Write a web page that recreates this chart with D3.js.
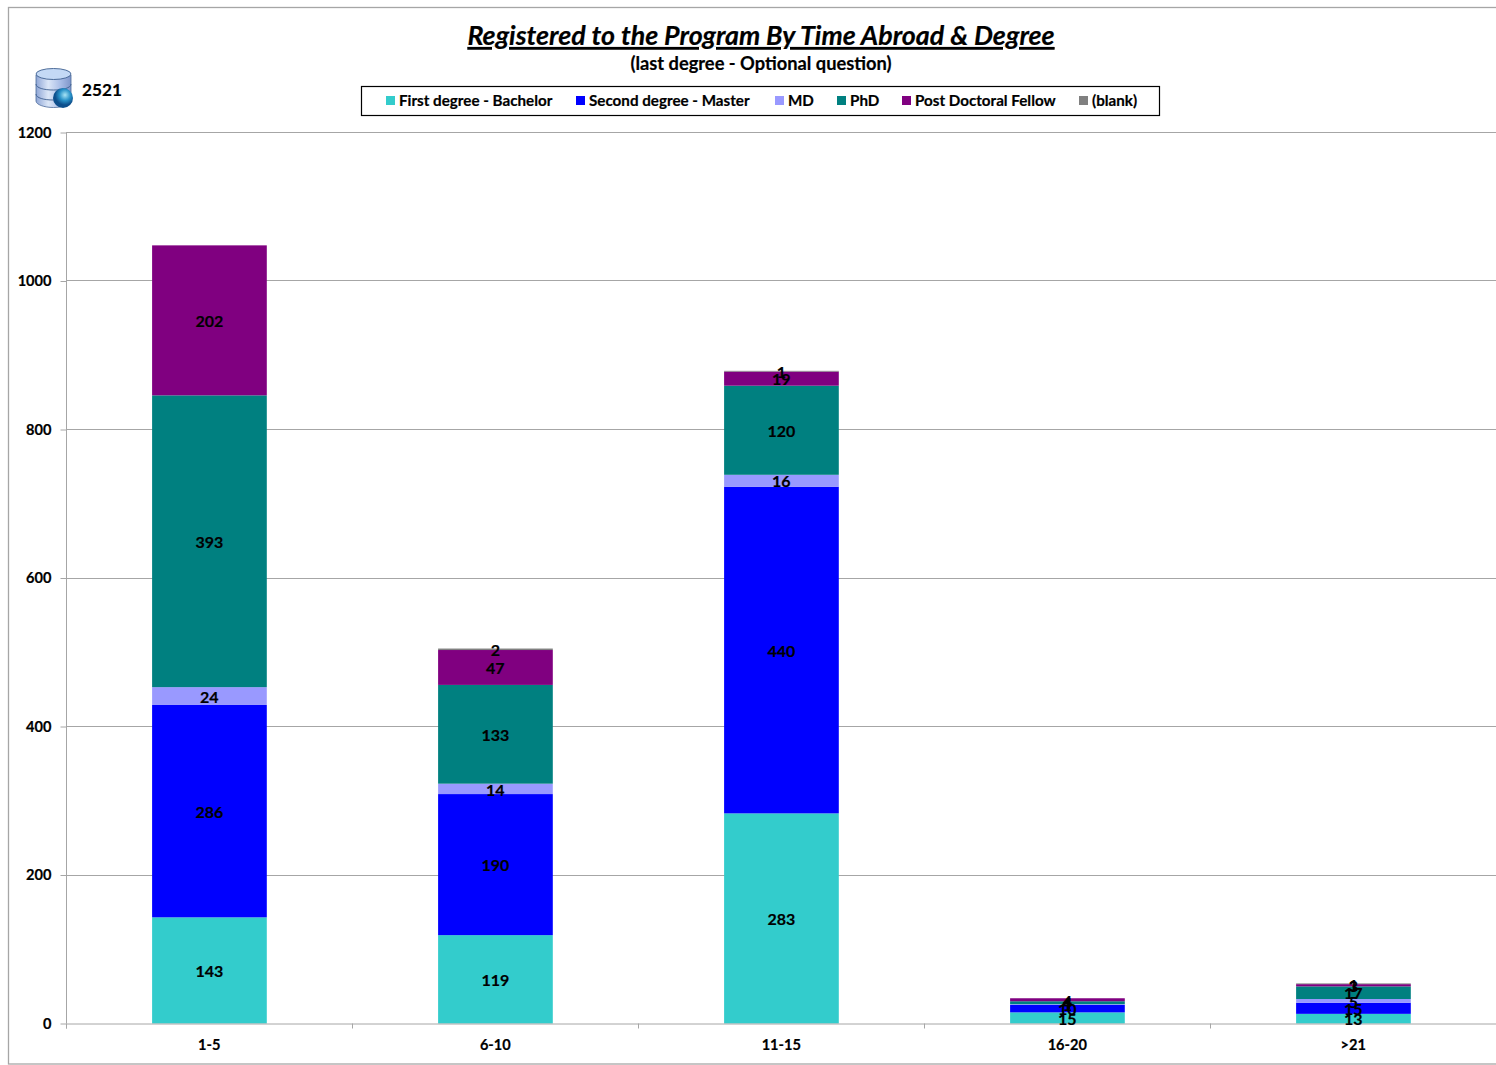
<!DOCTYPE html>
<html><head><meta charset="utf-8">
<script src="https://cdnjs.cloudflare.com/ajax/libs/d3/7.8.5/d3.min.js"></script>
<style>html,body{margin:0;padding:0;background:#fff;overflow:hidden}svg{display:block}text{font-family:Lato,"Open Sans",sans-serif;font-weight:700;fill:#000;stroke:#000;stroke-width:.2px}</style>
</head><body><svg id="c" width="1496" height="1065"></svg>
<script>
const categories = ["1-5","6-10","11-15","16-20",">21"];
const seriesNames = ["First degree - Bachelor","Second degree - Master","MD","PhD","Post Doctoral Fellow","(blank)"];
const seriesColors = ["#33CCCC","#0000FF","#9999FF","#008080","#800080","#808080"];
const bachelor = [143,119,283,15,13];
const master = [286,190,440,10,15];
const md = [24,14,16,1,5];
const phd = [393,133,120,4,17];
const postdoc = [202,47,19,4,3];
const blank = [0,2,1,0,1];
const yTicks = [0,200,400,600,800,1000,1200];
const total = "2521";
const titleText = "Registered to the Program By Time Abroad & Degree";
const subtitleText = "(last degree - Optional question)";

const svg = d3.select("#c");
const seriesValues = [bachelor,master,md,phd,postdoc,blank];
const rows = categories.map((c,i)=>{const r={cat:c};seriesNames.forEach((s,k)=>r[s]=seriesValues[k][i]);return r;});
const stacked = d3.stack().keys(seriesNames)(rows);
const x = d3.scaleBand().domain(categories).range([66,1496]).paddingInner(0.6).paddingOuter(0.3);
const y = d3.scaleLinear().domain([0,1200]).range([1023.5,132.5]);
const color = d3.scaleOrdinal(seriesNames,seriesColors);

svg.append("rect").attr("x",8.5).attr("y",7.5).attr("width",1600).attr("height",1056.5).attr("fill","#fff").attr("stroke","#a6a6a6").attr("stroke-width",1.3);

svg.append("g").selectAll("line").data(yTicks.slice(1)).join("line")
 .attr("x1",66).attr("x2",1496).attr("y1",d=>Math.floor(y(d))+.5).attr("y2",d=>Math.floor(y(d))+.5).attr("stroke","#a6a6a6").attr("stroke-width",1);

const g = svg.append("g");
g.selectAll("g").data(stacked).join("g").attr("fill",d=>color(d.key))
 .selectAll("rect").data(d=>d.filter(p=>p[1]>p[0])).join("rect")
 .attr("x",d=>x(d.data.cat)+.3).attr("width",x.bandwidth()+.3)
 .attr("y",d=>y(d[1])).attr("height",d=>y(d[0])-y(d[1]));

const yAxis = d3.axisLeft(y).tickValues(yTicks).tickSize(6).tickPadding(9).tickFormat(d3.format("d"));
const ya = svg.append("g").attr("transform","translate(66.5,0)").call(yAxis);
ya.selectAll("text").style("font-size","14.6px").attr("dy","0.34em");
ya.selectAll("path,line").attr("stroke","#a6a6a6");
ya.select(".domain").attr("d","M0,132.5V1023.5");

const step = x.step();
const bounds = categories.map((c,i)=>66+i*step).concat([1496]);
const bottom = d3.scaleLinear().domain([66,1496]).range([66,1496]);
const xa = svg.append("g").attr("transform","translate(0,1023.5)").call(d3.axisBottom(bottom).tickValues(bounds).tickSize(5).tickFormat(""));
xa.selectAll("path,line").attr("stroke","#a6a6a6");

svg.append("g").selectAll("text").data(categories).join("text")
 .attr("x",d=>x(d)+x.bandwidth()/2+.3).attr("y",1050).attr("text-anchor","middle").style("font-size","14.6px").text(d=>d);

stacked.forEach(s=>{
 svg.append("g").selectAll("text").data(s.filter(p=>p[1]>p[0])).join("text")
  .attr("x",d=>x(d.data.cat)+x.bandwidth()/2+.3)
  .attr("y",d=>y((d[0]+d[1])/2)+1).attr("dy","0.36em")
  .attr("text-anchor","middle").style("font-size","16px")
  .text(d=>d[1]-d[0]);
});

// title block
svg.append("text").attr("x",761).attr("y",45).attr("text-anchor","middle")
 .style("font-size","26.8px").style("font-style","italic").style("text-decoration","underline").text(titleText);
svg.append("text").attr("x",761).attr("y",70).attr("text-anchor","middle").style("font-size","18.3px").text(subtitleText);

// legend
const legendX = [386,576,775,837,902,1079];
const leg = svg.append("g");
leg.append("rect").attr("x",361.5).attr("y",86.5).attr("width",798).attr("height",29).attr("fill","#fff").attr("stroke","#000").attr("stroke-width",1.2);
seriesNames.forEach((s,i)=>{
 leg.append("rect").attr("x",legendX[i]).attr("y",96).attr("width",9).attr("height",9).attr("fill",seriesColors[i]);
 leg.append("text").attr("x",legendX[i]+13).attr("y",106).style("font-size","15.2px").text(s);
});

// database icon
const defs = svg.append("defs");
const lg = defs.append("linearGradient").attr("id","cyl");
[["0%","#8fa6d6"],["35%","#dbe6f7"],["70%","#a9bde6"],["100%","#7f95c9"]].forEach(a=>lg.append("stop").attr("offset",a[0]).attr("stop-color",a[1]));
const rg = defs.append("radialGradient").attr("id","globe").attr("cx","60%").attr("cy","35%");
[["0%","#a8e4f5"],["55%","#2a93c9"],["100%","#0d4f8c"]].forEach(a=>rg.append("stop").attr("offset",a[0]).attr("stop-color",a[1]));
const ic = svg.append("g");
ic.append("path").attr("d","M36,75V101C36,104.5,44,107.5,53.5,107.5C63,107.5,71,104.5,71,101V75Z").attr("fill","url(#cyl)").attr("stroke","#4a6a9a").attr("stroke-width",.8);
[87,97].forEach(v=>ic.append("path").attr("d",`M36,${v-3}C36,${v+1},44,${v+3},53.5,${v+3}C63,${v+3},71,${v+1},71,${v-3}`).attr("fill","none").attr("stroke","#3d5f8f").attr("stroke-width",.9));
ic.append("ellipse").attr("cx",53.5).attr("cy",74).attr("rx",17.5).attr("ry",5.5).attr("fill","#c4d9f5").attr("stroke","#3d5f8f").attr("stroke-width",.9);
ic.append("circle").attr("cx",63).attr("cy",98).attr("r",10).attr("fill","url(#globe)");
svg.append("text").attr("x",82).attr("y",96).style("font-size","17.2px").text(total);
</script></body></html>
